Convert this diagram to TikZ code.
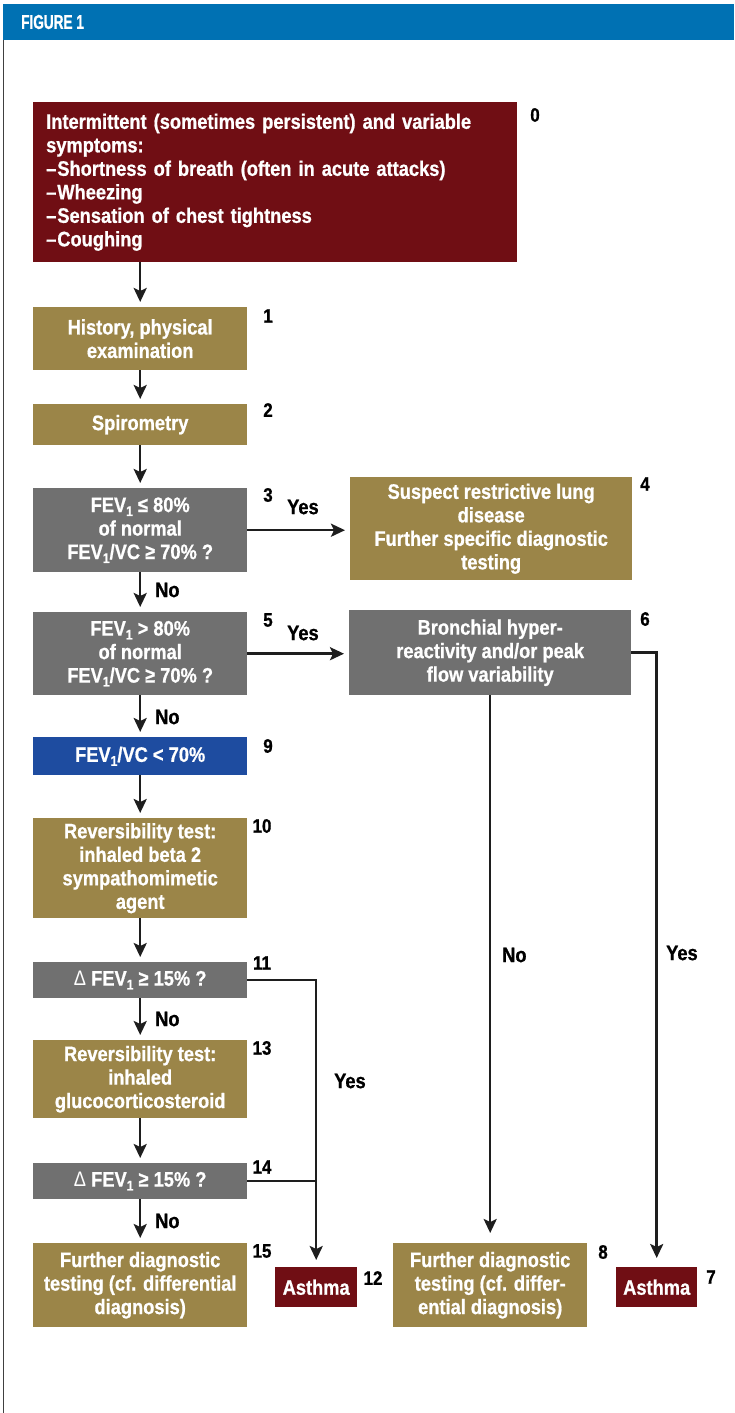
\documentclass[tikz,border=0pt]{standalone}
\usepackage{fontspec}
\setmainfont{Liberation Sans}[FakeStretch=0.87, BoldFeatures={FakeBold=0.8}]
\newfontfamily\headfont{Liberation Sans}[FakeStretch=0.68, BoldFeatures={FakeBold=1}]
\usetikzlibrary{arrows.meta}
\definecolor{maroon}{RGB}{112,14,20}
\definecolor{olive}{RGB}{155,133,72}
\definecolor{boxgray}{RGB}{112,112,112}
\definecolor{boxblue}{RGB}{30,76,160}
\definecolor{headblue}{RGB}{0,113,179}
\definecolor{linec}{RGB}{30,30,30}
\newcommand\lowsub[1]{\raisebox{-0.35ex}{\fontsize{14}{14}\selectfont #1}}
\tikzset{
  box/.style={anchor=north west, inner sep=0pt, align=center, text=white},
  olivebox/.style={box, fill=olive},
  graybox/.style={box, fill=boxgray},
  redbox/.style={box, fill=maroon},
  bluebox/.style={box, fill=boxblue},
  num/.style={text=black, inner sep=0pt, font=\bfseries\fontsize{19.5}{19.5}\selectfont},
  lab/.style={text=black, inner sep=0pt, anchor=west},
  conn/.style={line width=2.5pt, draw=linec, -{Stealth[length=14pt,width=13pt,inset=3pt]}, shorten >=5pt},
  plain/.style={line width=2.5pt, draw=linec}
}
\begin{document}
\begin{tikzpicture}[x=1pt,y=-1pt,font=\bfseries\fontsize{21}{23.5}\selectfont]
\useasboundingbox (0,0) rectangle (734,1413);
\fill[white] (0,0) rectangle (734,1413);
% header
\fill[headblue] (3,4) rectangle (734,40);
\node[anchor=west, text=white, inner sep=0pt, font=\headfont\bfseries\fontsize{20}{20}\selectfont] (title) at (21,22) {FIGURE 1};
\draw[black!75, line width=1.2pt] (3.6,40) -- (3.6,1413);
% boxes
\node[redbox, align=left, text width=458, inner xsep=13, minimum height=160] (b0) at (33,102)
 {Intermittent (sometimes persistent) and variable\\symptoms:\\–\kern1pt Shortness of breath (often in acute attacks)\\–\kern1pt Wheezing\\–\kern1pt Sensation of chest tightness\\–\kern1pt Coughing};
\node[olivebox, minimum width=214, minimum height=63] (b1) at (33,307) {History, physical\\examination};
\node[olivebox, minimum width=214, minimum height=41] (b2) at (33,404) {Spirometry};
\node[graybox, minimum width=214, minimum height=84] (b3) at (33,488) {FEV\lowsub{1} ≤ 80\%\\of normal\\FEV\lowsub{1}/VC ≥ 70\% ?};
\node[olivebox, minimum width=282, minimum height=103] (b4) at (350,477) {Suspect restrictive lung\\disease\\Further specific diagnostic\\testing};
\node[graybox, minimum width=214, minimum height=83] (b5) at (33,612) {FEV\lowsub{1} > 80\%\\of normal\\FEV\lowsub{1}/VC ≥ 70\% ?};
\node[graybox, minimum width=282, minimum height=85] (b6) at (349,610) {Bronchial hyper-\\reactivity and/or peak\\flow variability};
\node[bluebox, minimum width=214, minimum height=38] (b9) at (33,737) {FEV\lowsub{1}/VC < 70\%};
\node[olivebox, minimum width=214, minimum height=100] (b10) at (33,818) {Reversibility test:\\inhaled beta 2\\sympathomimetic\\agent};
\node[graybox, minimum width=214, minimum height=36] (b11) at (33,962) {{\mdseries Δ} FEV\lowsub{1} ≥ 15\% ?};
\node[olivebox, minimum width=214, minimum height=78] (b13) at (33,1040) {Reversibility test:\\inhaled\\glucocorticosteroid};
\node[graybox, minimum width=214, minimum height=36] (b14) at (33,1163) {{\mdseries Δ} FEV\lowsub{1} ≥ 15\% ?};
\node[olivebox, minimum width=214, minimum height=84] (b15) at (33,1243) {Further diagnostic\\testing (cf. differential\\diagnosis)};
\node[redbox, minimum width=82, minimum height=40] (a12) at (275,1267) {Asthma};
\node[olivebox, minimum width=194, minimum height=84] (b8) at (393,1243) {Further diagnostic\\testing (cf. differ-\\ential diagnosis)};
\node[redbox, minimum width=81, minimum height=40] (a7) at (616,1267) {Asthma};
% numbers
\node[num] (n0) at (535,115) {0};
\node[num] (n1) at (268,316) {1};
\node[num] (n2) at (268,410) {2};
\node[num] (n3) at (268,495) {3};
\node[num] (n4) at (645,484) {4};
\node[num] (n5) at (268,620) {5};
\node[num] (n6) at (645,619) {6};
\node[num] (n9) at (268,746) {9};
\node[num] (n10) at (262,826) {10};
\node[num] (n11) at (262,963) {11};
\node[num] (n13) at (262,1048) {13};
\node[num] (n14) at (262,1167) {14};
\node[num] (n15) at (262,1251) {15};
\node[num] (n12) at (373,1278) {12};
\node[num] (n8) at (603,1252) {8};
\node[num] (n7) at (711,1277) {7};
% connector labels
\node[lab] (y3) at (287,507) {Yes};
\node[lab] (y5) at (287,633) {Yes};
\node[lab] (no3) at (155,590) {No};
\node[lab] (no5) at (155,717) {No};
\node[lab] (no11) at (155,1019) {No};
\node[lab] (no14) at (155,1221) {No};
\node[lab] (y11) at (334,1081) {Yes};
\node[lab] (no6) at (502,955) {No};
\node[lab] (y6) at (666,953) {Yes};
% connectors
\draw[conn] (b0.south -| b1.north) -- (b1.north);
\draw[conn] (b1.south) -- (b2.north);
\draw[conn] (b2.south) -- (b3.north);
\draw[conn] (b3.south) -- (b5.north);
\draw[conn] (b5.south) -- (b9.north);
\draw[conn] (b9.south) -- (b10.north);
\draw[conn] (b10.south) -- (b11.north);
\draw[conn] (b11.south) -- (b13.north);
\draw[conn] (b13.south) -- (b14.north);
\draw[conn] (b14.south) -- (b15.north);
\draw[conn] (b3.east) -- (b3.east -| b4.west);
\draw[conn] (b5.east) -- (b5.east -| b6.west);
\draw[conn, shorten >=9pt] (b6.east) -| (a7.north);
\draw[conn, shorten >=10pt] (b6.south) -- (b8.north);
\draw[conn, shorten >=7pt] (b11.east) -| (a12.north);
\draw[plain] (b14.east) -- (b14.east -| a12.north);
\end{tikzpicture}
\end{document}
